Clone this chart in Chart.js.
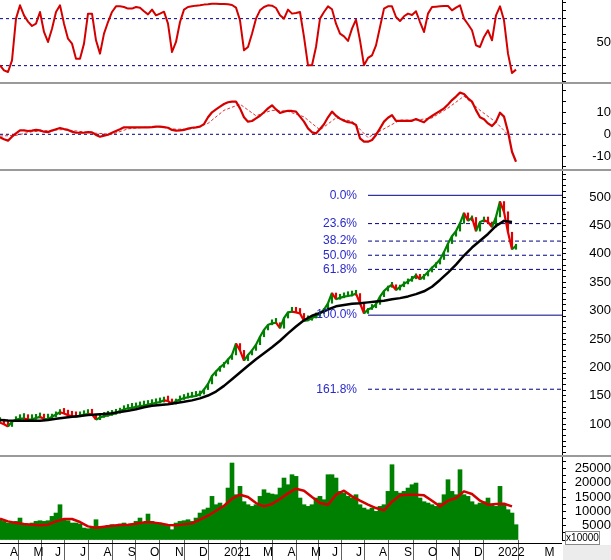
<!DOCTYPE html>
<html><head><meta charset="utf-8">
<script src="https://cdn.jsdelivr.net/npm/chart.js@4.4.1/dist/chart.umd.min.js"></script>
<style>
html,body{margin:0;padding:0;background:#fff;}
body{width:611px;height:560px;position:relative;overflow:hidden;font-family:"Liberation Sans",Arial,sans-serif;}
.pane{position:absolute;left:0;width:611px;}
.sep{position:absolute;left:0;width:611px;height:2px;background:#9a9a9a;}
</style></head><body>
<div class="pane" style="top:0;height:82px"><canvas id="c1"></canvas></div>
<div class="pane" style="top:84px;height:85px"><canvas id="c2"></canvas></div>
<div class="pane" style="top:171px;height:284px"><canvas id="c3"></canvas></div>
<div class="pane" style="top:457px;height:103px"><canvas id="c4"></canvas></div>
<div class="sep" style="top:82px"></div>
<div class="sep" style="top:169px"></div>
<div class="sep" style="top:455px"></div>
<div style="position:absolute;left:0;top:543px;width:562px;height:1px;background:#000"></div>
<div style="position:absolute;left:563px;top:545px;width:48px;height:15px;background:#ececec"></div>
<div style="position:absolute;left:565px;top:531px;width:33px;height:12px;border:1px solid #888;background:#fff;font-size:10px;line-height:12px;text-align:center;color:#000">x10000</div>
<script>
// ---- data (one sample ≈ 4 trading days, Mar 2020 – Jan 2022) ----
const stoch = [20.4,14.0,11.9,26.8,80.0,97.0,84.2,76.2,70.6,73.6,
88.5,63.0,50.2,67.2,88.5,97.0,73.6,54.4,48.1,28.9,
28.9,48.1,86.4,86.4,52.3,35.3,60.8,75.7,88.5,95.7,
95.7,94.9,92.8,92.8,94.9,94.0,89.4,85.5,91.5,84.2,
86.4,88.9,73.6,37.4,50.2,75.7,91.5,94.9,95.7,96.6,
97.0,97.9,98.3,99.1,99.1,98.7,98.7,98.3,97.4,94.0,
77.9,39.5,43.8,60.8,80.0,90.6,94.9,97.0,96.6,93.6,
84.2,80.0,91.5,86.4,87.2,88.5,56.6,20.4,20.4,43.8,
80.0,88.5,95.7,91.9,73.6,60.8,57.4,51.5,67.2,78.7,
52.3,20.4,29.8,33.2,45.9,69.3,92.8,95.7,95.7,82.1,
77.0,83.0,86.4,84.7,89.4,75.7,63.0,86.4,94.9,95.3,
95.7,96.2,96.2,90.6,94.0,97.0,80.0,72.8,65.1,45.9,
43.8,56.6,65.1,52.3,84.2,95.7,77.9,35.3,10.6,14.9];
const stochLevels = [80, 20];
const stochTickLabels = [50];

const macd = [-1.4,-2.3,-2.9,-1.1,0.4,1.8,1.8,1.5,1.7,2.0,
1.8,1.2,1.0,1.7,2.3,2.9,2.4,2.0,1.2,0.7,
0.7,0.7,1.0,0.9,-0.3,-1.1,-0.6,-0.2,0.7,1.5,
2.3,3.2,3.2,3.2,3.2,3.2,3.2,3.2,3.3,3.5,
3.5,3.3,3.0,2.0,1.7,1.8,2.0,2.6,3.0,3.2,
3.5,4.7,7.8,10.1,11.4,12.7,13.9,14.7,15.0,15.0,
11.9,7.8,5.8,6.1,7.3,8.5,10.1,11.9,13.3,11.4,
9.8,10.4,10.8,10.7,10.4,8.1,5.8,2.7,0.9,0.4,
2.4,4.6,7.8,10.4,8.5,7.2,6.2,5.6,5.3,4.3,
-1.9,-3.4,-3.4,-2.6,-0.3,2.7,5.8,7.6,8.8,6.2,
6.2,6.2,6.2,6.2,7.0,6.2,5.5,7.2,8.4,9.6,
10.7,11.9,13.7,15.7,17.3,19.1,18.5,16.5,15.0,11.1,
7.8,6.9,5.0,3.8,5.8,9.9,8.1,1.2,-8.0,-12.6];
// signal line, one value every 4 samples
const macdSignal = [-0.8,-0.5,1.2,1.7,2.2,1.3,0.5,0.0,2.5,3.2,3.4,2.3,2.5,5.0,11.0,13.8,8.5,
11.0,10.5,8.0,2.0,7.5,6.0,-1.5,2.5,6.5,6.5,7.5,12.0,17.5,11.0,5.5,-2.0];
const macdZero = 0;
const macdTickLabels = [10, 0, -10];

const closePrice = [102.7,100,96,104.5,108,110,110,108,108.6,111,
113,109,109,113,117,121,119,116,114,113,
115,117,118,117.5,108,112,114,115.5,117.5,119.5,
123.8,126,128,128.7,130.5,132,133,134.5,136,137.5,
139,142,140.8,135.6,141,143.5,146,147.5,149,149.7,
153,161,171,185,193,200,206,214,222,242,
230,212,222,230,240,254,266,275,277.5,278.7,
269,287,297,298,297,295,282,283,287,290,
295,302,313,331,320,322.5,324.5,325.7,327,330,
313,295,302,305,311,324.5,334.5,341,345.5,336.2,
342,347,351.5,356,362,355,361,368,375.5,382,
390,403,418,431,440,453.6,472,458,464,440,
456,459,456,447,465,492,474,438,408,414];
// moving average, one value every 2 samples
const priceMA = [107.5,106.5,106,106,106,106,107.5,109.5,111.5,113,
114.5,116,117,118,119.5,121.5,123.5,126.5,130,132.5,
134,135.3,137.5,139.5,142,145.5,150.5,157.5,167.5,179,
191,203,214.5,225,235.5,247,260,272,283,291,
296,302,307.5,310,312,313,314.5,316,317.5,320,
322,325,329,334,342,354,367,381,397,411,
423,435,449,458,456];
const fibHigh = 503, fibLow = 292, fibStartSample = 92;
const fibLevels = [0, 23.6, 38.2, 50, 61.8, 100, 161.8];
const priceTickLabels = [100, 150, 200, 250, 300, 350, 400, 450, 500];

const volume = [7099,6516,5934,5934,6516,7682,5350,5117,5934,6516,
6749,6516,6749,8265,9431,12344,7099,6749,5934,5934,
5584,4184,3951,4184,7099,4767,4767,5117,5350,5117,
5584,5934,5117,5350,6516,7682,5934,9081,6516,5934,
5934,5350,4767,3602,5934,6516,6749,7099,6516,7682,
9431,10596,11179,15258,12344,12928,11761,18173,26916,15841,
18755,13393,12344,11761,12344,15258,17590,16425,16075,15841,
18173,21671,19338,22836,22251,14677,12344,11761,12344,14677,
15258,14093,22836,22836,21671,17006,16425,15258,14677,15841,
12344,11179,10596,11179,10012,11761,12344,17006,26332,17006,
16425,17006,18173,19338,19922,14677,13393,12928,12344,11761,
12928,15841,21087,17006,15841,24584,15841,15258,13393,12344,
12928,13393,14677,12344,11761,18755,12344,10596,9431,5350];
// volume moving average, one value every 2 samples
const volumeMA = [7449,6516,5934,5584,5350,5117,5350,6516,7333,7333,
6284,4767,4301,4651,5001,5235,5350,5700,6166,6166,
5816,5235,5117,5467,5816,7099,8498,10246,11995,14443,
15841,15026,12928,11761,12578,14327,16308,17940,17240,15026,
12928,12344,15841,17240,15258,13743,12344,11179,10363,13393,
15608,15841,15841,15608,13743,11761,13743,14677,17006,16075,
13743,12344,12578,12694,11761];
const volumeTickLabels = [5000, 10000, 15000, 20000, 25000];

const monthLabels = ['A','M','J','J','A','S','O','N','D','2021','M','A','M','J','J','A','S','O','N','D','2022','M'];
const monthStarts = [1.75,7.6,13,19.25,25.1,31.2,36.75,43,49,55.25,65,71.1,77,82.25,88.25,94,100.25,106.25,112,117.75,123.75,135.4];
const X_MAX = 140.5;

// ---- chart helpers ----
Chart.defaults.font.family = '"Liberation Sans", Arial, sans-serif';
Chart.defaults.font.size = 12;
Chart.defaults.color = '#000';
const GREEN = '#008000', RED = '#e00000', NAVY = '#000080';

const pts = (arr, step) => arr.map((v, i) => ({x: i * step, y: v}));

function xHidden(){ return {type:'linear', min:0, max:X_MAX, display:false, offset:false}; }
function yAxis(min, max, step, labels, pad){
  return {position:'right', min, max, offset:false,
    afterBuildTicks(s){
      const t = [];
      for (let k = Math.ceil(min / step); k * step <= max; k++) t.push({value: k * step});
      s.ticks = t;
    },
    afterFit(s){ s.width = 49; s.paddingTop = 0; s.paddingBottom = 0; },
    border:{display:true, color:'#000', width:1},
    grid:{drawOnChartArea:false, drawTicks:true, tickLength:4, color:'#000'},
    ticks:{autoSkip:false, crossAlign:'far', padding:pad, color:'#000', font:{size:13},
      callback:(v) => labels.includes(Math.round(v)) ? String(Math.round(v)) : ''}};
}
function hline(level, color, dash, width, x0){
  return {type:'line', data:[{x:x0, y:level},{x:X_MAX, y:level}], borderColor:color, borderWidth:width,
    borderDash:dash, pointRadius:0, order:10};
}
function lineDs(data, color, width, order, dash){
  return {type:'line', data, borderColor:color, borderWidth:width, pointRadius:0, tension:0, fill:false,
    order, borderDash:dash || [], borderJoinStyle:'round'};
}
function make(id, datasets, scales, plugins){
  return new Chart(document.getElementById(id), {type:'line', data:{datasets},
    options:{responsive:true, maintainAspectRatio:false, animation:false, events:[],
      layout:{padding:0}, plugins:{legend:{display:false}, tooltip:{enabled:false}}, scales},
    plugins: plugins || []});
}

// Panel 1: stochastic
make('c1', [
  ...stochLevels.map(l => hline(l, NAVY, [3,3], 1, 0)),
  lineDs(pts(stoch, 1), '#d40000', 2, 1)
], {x:xHidden(), y:yAxis(-0.9, 103.8, 10, stochTickLabels, 23)});

// Panel 2: MACD
make('c2', [
  hline(macdZero, NAVY, [3,3], 1, 0),
  lineDs(pts(macdSignal, 4), '#e03030', 1, 2, [3,2]),
  lineDs(pts(macd, 1), '#d40000', 2.2, 1)
], {x:xHidden(), y:yAxis(-15.92, 23.07, 5, macdTickLabels, 19)});

// Panel 3: price + MA + Fibonacci
const fibValue = p => fibHigh - (fibHigh - fibLow) * p / 100;
const priceBars = closePrice.map((c, i) => ({x:i, y:[i ? closePrice[i-1] : c, c]}));
const upDown = (a, b) => b < a ? RED : GREEN;
const fibLabels = {id:'fibLabels', afterDatasetsDraw(chart){
  const ctx = chart.ctx, xs = chart.scales.x, ys = chart.scales.y;
  ctx.save();
  ctx.font = '12px "Liberation Sans", Arial, sans-serif';
  ctx.fillStyle = '#2a2acc'; ctx.textAlign = 'right'; ctx.textBaseline = 'middle';
  fibLevels.forEach(p => ctx.fillText(p.toFixed(1) + '%', xs.getPixelForValue(fibStartSample) - 11, ys.getPixelForValue(fibValue(p))));
  ctx.restore();
}};
make('c3', [
  ...fibLevels.map(p => hline(fibValue(p), NAVY, (p === 0 || p === 100) ? [] : [4,3], 1, fibStartSample)),
  {type:'bar', data:priceBars, order:3, barThickness:1.5, minBarLength:5, borderWidth:0,
    backgroundColor: c => (c.raw ? upDown(c.raw.y[0], c.raw.y[1]) : GREEN)},
  {type:'line', data:pts(closePrice, 1), order:2, borderWidth:2.2, pointRadius:0, tension:0, fill:false,
    borderColor:GREEN, segment:{borderColor: c => upDown(c.p0.parsed.y, c.p1.parsed.y)}},
  lineDs(pts(priceMA, 2), '#000', 2.5, 1)
], {x:xHidden(), y:yAxis(45.8, 545.8, 10, priceTickLabels, 16)}, [fibLabels]);

// Panel 4: volume + x axis
make('c4', [
  {type:'bar', data:pts(volume, 1), order:2, barPercentage:1, categoryPercentage:1, borderWidth:0, backgroundColor:GREEN},
  lineDs(pts(volumeMA, 2), '#d40000', 2.5, 1)
], {
  x:{type:'linear', min:0, max:X_MAX, offset:false, position:'bottom',
    afterBuildTicks(s){ s.ticks = monthStarts.map(v => ({value:v})); },
    afterFit(s){ s.height = 20; s.paddingLeft = 0; s.paddingRight = 0; },
    border:{display:false},
    grid:{drawOnChartArea:false, drawTicks:true, tickLength:20, color:'#606060'},
    ticks:{autoSkip:false, maxRotation:0, minRotation:0, align:'start', labelOffset:3, padding:-15, color:'#000',
      callback:(v, i) => monthLabels[i]}},
  y:yAxis(0, 29025, 2500, volumeTickLabels, 3)
});
</script>
</body></html>
